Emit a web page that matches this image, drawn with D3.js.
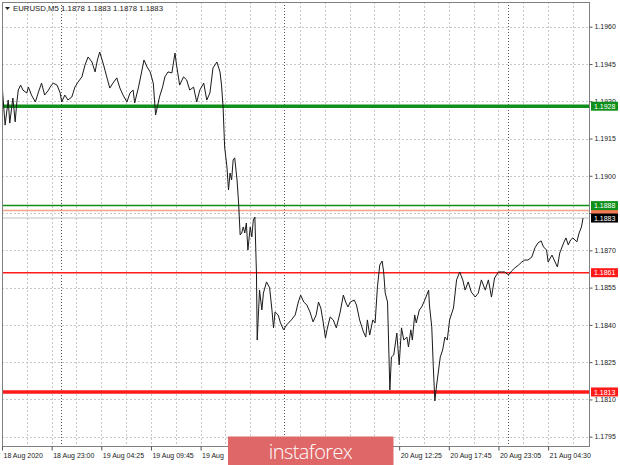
<!DOCTYPE html>
<html><head><meta charset="utf-8">
<script src="https://cdn.jsdelivr.net/npm/d3@7"></script>
<style>html,body{margin:0;padding:0;background:#fff;}svg{display:block;}</style>
</head><body>
<div id="chart"></div>
<script>
// ---- data ----
const symbolTitle = "EURUSD,M5";
const ohlc = ["1.1878", "1.1883", "1.1878", "1.1883"];
// bar index (5-minute bars from the first bar) and close price
const bars = [0,4,8,10,14,17,19,21,24,27,32,34,38,43,47,51,55,60,62,66,71,75,77,81,85,90,94,98,103,107,111,116,120,123,126,131,135,139,143,148,152,156,161,165,169,171,176,180,183,187,191,195,198,203,207,210,214,219,223,225,229,234,238,242,247,251,255,260,264,268,272,277,281,283,285,287,290,292,294,296,298,300,303,305,307,309,311,313,315,317,320,322,324,326,328,329,332,335,337,341,345,348,350,352,356,359,363,367,373,378,382,385,389,393,397,401,405,408,411,414,417,419,423,427,431,436,440,443,446,449,454,457,461,466,469,471,474,478,481,484,487,490,492,494,497,500,502,505,509,512,515,518,522,524,527,529,532,534,538,541,545,550,551,554,556,558,560,565,568,571,574,577,582,586,590,594,597,601,605,610,614,618,623,627,631,635,640,644,648,653,657,661,666,670,674,678,683,687,691,695,698,702,704,709,713,716,719,724,727,730,733,736,741,744,747,749];
const prices = [1.19369,1.19204,1.19305,1.19212,1.19313,1.19217,1.19293,1.19345,1.19365,1.19345,1.19333,1.19357,1.19325,1.19297,1.19337,1.19373,1.19325,1.19345,1.19357,1.19373,1.19365,1.19333,1.19297,1.19325,1.19305,1.19317,1.19357,1.19377,1.19398,1.19446,1.19478,1.19458,1.19418,1.19466,1.19498,1.19446,1.19398,1.19353,1.19373,1.19394,1.19353,1.19325,1.19297,1.19333,1.19345,1.19293,1.19357,1.19418,1.19466,1.19438,1.19418,1.19373,1.19245,1.19317,1.19357,1.19398,1.19418,1.19414,1.19494,1.19446,1.19365,1.19398,1.19386,1.19345,1.19357,1.19297,1.19345,1.19373,1.19305,1.19333,1.19434,1.19458,1.19418,1.19365,1.19277,1.19116,1.19035,1.18943,1.19011,1.18983,1.19064,1.19072,1.18983,1.18891,1.18762,1.18770,1.18794,1.18770,1.18810,1.18701,1.18794,1.18754,1.18822,1.18834,1.18609,1.18339,1.18540,1.18460,1.18528,1.18573,1.18549,1.18460,1.18388,1.18452,1.18440,1.18408,1.18380,1.18400,1.18420,1.18440,1.18492,1.18520,1.18492,1.18480,1.18452,1.18412,1.18440,1.18492,1.18468,1.18412,1.18347,1.18380,1.18432,1.18420,1.18388,1.18452,1.18520,1.18492,1.18472,1.18492,1.18500,1.18480,1.18420,1.18371,1.18351,1.18420,1.18359,1.18420,1.18408,1.18553,1.18641,1.18657,1.18613,1.18528,1.18492,1.18138,1.18271,1.18279,1.18367,1.18239,1.18388,1.18339,1.18351,1.18311,1.18380,1.18339,1.18440,1.18408,1.18460,1.18472,1.18500,1.18540,1.18480,1.18392,1.18231,1.18094,1.18150,1.18271,1.18299,1.18351,1.18339,1.18420,1.18468,1.18581,1.18613,1.18581,1.18540,1.18573,1.18532,1.18512,1.18528,1.18581,1.18540,1.18581,1.18512,1.18589,1.18613,1.18613,1.18613,1.18601,1.18617,1.18629,1.18641,1.18653,1.18661,1.18661,1.18673,1.18710,1.18730,1.18738,1.18714,1.18701,1.18653,1.18681,1.18653,1.18633,1.18689,1.18730,1.18750,1.18722,1.18742,1.18750,1.18734,1.18770,1.18794,1.18830];
const yTicks = [1.1960,1.1945,1.1930,1.1915,1.1900,1.1885,1.1870,1.1855,1.1840,1.1825,1.1810,1.1795];
const yTickLabels = ["1.1960","1.1945","1.1930","1.1915","1.1900","","1.1870","1.1855","1.1840","1.1825","1.1810","1.1795"];
const xTickBars = [0,64,128,192,256,320,384,448,512,576,640,704];
const xTickLabels = ["18 Aug 2020","18 Aug 23:00","19 Aug 04:25","19 Aug 09:45","19 Aug","","","","20 Aug 12:25","20 Aug 17:45","20 Aug 23:05","21 Aug 04:30"];
const daySeparatorBars = [76,364,652];
const levelNames = ["salmon","thickGreen","green","current","red","thickRed"];
const levelValues = [1.1886,1.1928,1.1888,1.1883,1.1861,1.1813];
const logoText = "instaforex";

// ---- styles ----
const levelStyle = {
  salmon:     {stroke:"#f4a58a", width:1.5, box:"#f27b55", text:"#fff"},
  thickGreen: {stroke:"#10901a", width:3.5, box:"#10901a", text:"#fff"},
  green:      {stroke:"#10901a", width:1.5, box:"#10901a", text:"#fff"},
  current:    {stroke:"#c0c0c0", width:1,   box:"#000000", text:"#fff"},
  red:        {stroke:"#ff1a1a", width:1.5, box:"#ff1a1a", text:"#fff"},
  thickRed:   {stroke:"#ff1a1a", width:3.5, box:"#ff1a1a", text:"#fff"}
};

const W = 620, H = 465;
const L = 2, R = 590, T = 2, B = 447;
const font = "'Liberation Sans', Arial, sans-serif";

const svg = d3.select("#chart").append("svg").attr("width", W).attr("height", H);

const x = d3.scaleLinear().domain([0, 758]).range([L, R]);
const y = d3.scaleLinear().domain([1.1795, 1.1960]).range([436.7, 26.7]);

// grid: horizontal
svg.append("g").selectAll("line").data(yTicks).join("line")
  .attr("x1", L).attr("x2", R)
  .attr("y1", d => Math.round(y(d)) + 0.5).attr("y2", d => Math.round(y(d)) + 0.5)
  .attr("stroke", "#c8c8c8").attr("stroke-width", 1).attr("stroke-dasharray", "2,2");

// grid: vertical every 32 bars
const vGrid = d3.range(32, 758, 32);
svg.append("g").selectAll("line").data(vGrid).join("line")
  .attr("x1", d => Math.round(x(d)) + 0.5).attr("x2", d => Math.round(x(d)) + 0.5)
  .attr("y1", T).attr("y2", B)
  .attr("stroke", "#c8c8c8").attr("stroke-width", 1).attr("stroke-dasharray", "2,2");

// day separators
svg.append("g").selectAll("line").data(daySeparatorBars).join("line")
  .attr("x1", d => Math.round(x(d)) + 0.5).attr("x2", d => Math.round(x(d)) + 0.5)
  .attr("y1", T).attr("y2", B)
  .attr("stroke", "#555").attr("stroke-width", 1).attr("stroke-dasharray", "1,2");

// level lines
const levels = levelNames.map((n, i) => ({name: n, value: levelValues[i]}));
svg.append("g").selectAll("line").data(levels).join("line")
  .attr("x1", L).attr("x2", R)
  .attr("y1", d => y(d.value)).attr("y2", d => y(d.value))
  .attr("stroke", d => levelStyle[d.name].stroke)
  .attr("stroke-width", d => levelStyle[d.name].width);

// clip
svg.append("clipPath").attr("id", "plotclip").append("rect")
  .attr("x", L).attr("y", T).attr("width", R - L).attr("height", B - T);

// price line
const pts = bars.map((b, i) => [b, prices[i]]);
svg.append("path").datum(pts)
  .attr("clip-path", "url(#plotclip)")
  .attr("fill", "none").attr("stroke", "#1a1a1a").attr("stroke-width", 1)
  .attr("stroke-linejoin", "round")
  .attr("d", d3.line().x(d => x(d[0])).y(d => y(d[1])));

// frame
svg.append("rect").attr("x", L + 0.5).attr("y", T + 0.5)
  .attr("width", R - L - 1).attr("height", B - T - 1)
  .attr("fill", "none").attr("stroke", "#808080").attr("stroke-width", 1);

// right axis
const yAxis = d3.axisRight(y).tickValues(yTicks)
  .tickFormat((d, i) => yTickLabels[i]).tickSize(3).tickPadding(2);
const ya = svg.append("g").attr("transform", `translate(${R - 0.5},0)`).call(yAxis);
ya.select(".domain").remove();
ya.selectAll("line").attr("stroke", "#555");
ya.selectAll("text").attr("font-family", font).attr("font-size", 7).attr("fill", "#222");

// bottom axis
const xAxis = d3.axisBottom(x).tickValues(xTickBars)
  .tickFormat((d, i) => xTickLabels[i]).tickSize(4).tickPadding(3);
const xa = svg.append("g").attr("transform", `translate(0,${B - 0.5})`).call(xAxis);
xa.select(".domain").remove();
xa.selectAll("line").attr("stroke", "#555");
xa.selectAll("text").attr("font-family", font).attr("font-size", 7).attr("fill", "#222")
  .attr("text-anchor", "start").attr("dx", 1);

// level boxes
const order = ["salmon","thickGreen","green","red","thickRed","current"];
const boxG = svg.append("g");
order.forEach(n => {
  const d = levels.find(l => l.name === n);
  const st = levelStyle[n];
  const yy = y(d.value);
  boxG.append("rect").attr("x", R + 1).attr("y", yy - 4.5).attr("width", 27).attr("height", 9)
    .attr("fill", st.box);
  if (n !== "salmon") {
    boxG.append("text").attr("x", R + 4).attr("y", yy + 2.6)
      .attr("font-family", font).attr("font-size", 7).attr("fill", st.text)
      .text(d3.format(".4f")(d.value));
  }
});

// title
svg.append("path").attr("d", "M5,7 L10,7 L7.5,10 Z").attr("fill", "#222");
svg.append("text").attr("x", 13).attr("y", 11)
  .attr("font-family", font).attr("font-size", 7.8).attr("fill", "#222")
  .text(symbolTitle + "  " + ohlc.join(" "));

// logo
svg.append("rect").attr("x", 228).attr("y", 436.5).attr("width", 165.5).attr("height", 30)
  .attr("fill", "#e06767");
svg.append("text").attr("x", 310.5).attr("y", 458.5).attr("text-anchor", "middle")
  .attr("font-family", "'Open Sans', sans-serif").attr("font-weight", 300)
  .attr("font-size", 20).attr("letter-spacing", -0.6).attr("fill", "#fff")
  .text(logoText);
</script>
</body></html>
